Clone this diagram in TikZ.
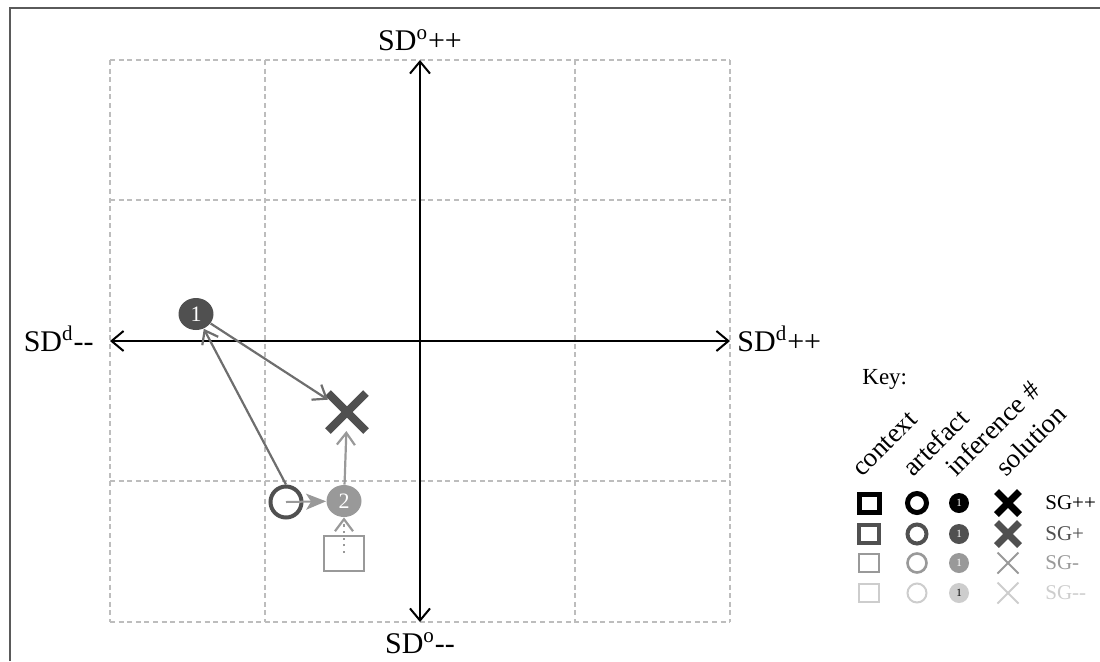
\documentclass[tikz,border=0pt]{standalone}
\usepackage{fontspec}
\setmainfont{Liberation Serif}
\usepackage{tikz}
\usetikzlibrary{arrows.meta, shapes.geometric, shapes.misc}
\usepackage{xcolor}

\definecolor{sgA}{HTML}{000000}
\definecolor{sgB}{HTML}{505050}
\definecolor{sgC}{HTML}{999999}
\definecolor{sgD}{HTML}{CDCDCD}
\definecolor{linkgray}{HTML}{6E6E6E}
\definecolor{gridgray}{HTML}{BDBDBD}
\definecolor{framegray}{HTML}{5A5A5A}

\begin{document}
\begin{tikzpicture}[x=0.5pt, y=-0.5pt,
    gridline/.style={gridgray, line width=0.6pt, dash pattern=on 2.5pt off 1.8pt},
    axis/.style={{Straight Barb[length=6pt,width=10pt]}-{Straight Barb[length=6pt,width=10pt]}, line width=1pt},
    axislabel/.style={inner sep=0pt, font=\fontsize{15}{18}\selectfont},
    link/.style={-{Straight Barb[length=6pt,width=9pt]}, line width=1.1pt},
    infer/.style={ellipse, fill=#1, text=white, inner sep=0pt, minimum width=17.5pt, minimum height=16pt, font=\fontsize{11}{11}\selectfont},
    artnode/.style={circle, draw=#1, line width=2pt, minimum size=15.5pt, inner sep=0pt},
    ctxnode/.style={rectangle, draw=#1, line width=1pt, minimum width=20pt, minimum height=17.5pt, inner sep=0pt},
    solnode/.style={cross out, draw=#1, line width=4pt, minimum size=15pt, inner sep=0pt},
    keylabel/.style={anchor=base west, rotate=45, inner sep=0pt, font=\fontsize{13.5}{15}\selectfont}]
  \useasboundingbox (0,0) rectangle (1100,661);
  % frame
  \draw[framegray, line width=1pt] (10,661) |- (1100,8);
  % grid
  \foreach \gx in {110,265,575,730} \draw[gridline] (\gx,60) -- (\gx,622);
  \foreach \gy in {60,200,481,622} \draw[gridline] (110,\gy) -- (730,\gy);
  % axes
  \coordinate (xl) at (110,341);
  \coordinate (xr) at (730,341);
  \coordinate (yt) at (420,60);
  \coordinate (yb) at (420,622);
  \draw[axis] (xl) -- (xr);
  \draw[axis] (yb) -- (yt);
  \node[axislabel, anchor=base] (sdotop) at (420,50) {SD\textsuperscript{o}++};
  \node[axislabel, anchor=base] (sdobot) at (420,653) {SD\textsuperscript{o}-{}-};
  \node[axislabel, anchor=base east] (sddleft) at (94,351) {SD\textsuperscript{d}-{}-};
  \node[axislabel, anchor=base west] (sddright) at (737,351) {SD\textsuperscript{d}++};
  % design moves
  \node[infer=sgB] (inf1) at (196,314) {1};
  \node[solnode=sgB] (sol) at (347,412) {};
  \node[artnode=sgB] (art) at (286,502) {};
  \node[infer=sgC] (inf2) at (344,501) {2};
  \node[ctxnode=sgC] (ctx) at (344,553) {};
  \draw[link, linkgray] (art.north) -- (inf1);
  \draw[link, linkgray] (inf1) -- (sol);
  \draw[-{Stealth[length=10pt,width=8pt,inset=2.5pt]}, line width=1pt, sgC] (art.center) -- (inf2);
  \draw[link, sgC] (inf2) -- (sol);
  \draw[link, sgC, dash pattern=on 1.1pt off 2.2pt] (ctx.center) -- (inf2);
  % key
  \node[anchor=base west, inner sep=0pt, font=\fontsize{11.5}{13}\selectfont] (keytitle) at (862,384) {Key:};
  \node[keylabel] (kcontext) at (862,478) {context};
  \node[keylabel] (kartefact) at (913,478) {artefact};
  \node[keylabel] (kinference) at (956,478) {inference \#};
  \node[keylabel] (ksolution) at (1006,478) {solution};
  \foreach \r/\ky/\c/\w/\xw/\xs/\t/\sg in {1/503/sgA/2.5pt/3.5pt/8pt/white/SG++, 2/534/sgB/2pt/3.5pt/8pt/white/SG+, 3/563/sgC/1.3pt/1pt/9.5pt/white/SG-, 4/593/sgD/1pt/1pt/9.5pt/black/SG-{}-}
  {
    \node[rectangle, draw=\c, line width=\w, minimum width=10pt, minimum height=9pt, inner sep=0pt] (kctx-\r) at (869,\ky) {};
    \node[circle, draw=\c, line width=\w, minimum size=9.5pt, inner sep=0pt] (kart-\r) at (917,\ky) {};
    \node[circle, fill=\c, text=\t, minimum size=10pt, inner sep=0pt, font=\fontsize{5.5}{5.5}\selectfont] (kinf-\r) at (959,\ky) {1};
    \node[cross out, draw=\c, line width=\xw, minimum size=\xs, inner sep=0pt] (ksol-\r) at (1008,\ky) {};
    \node[anchor=west, inner sep=0pt, text=\c, font=\fontsize{10.5}{12}\selectfont] (ksg-\r) at (1045,\ky) {\sg};
  }
\end{tikzpicture}
\end{document}
